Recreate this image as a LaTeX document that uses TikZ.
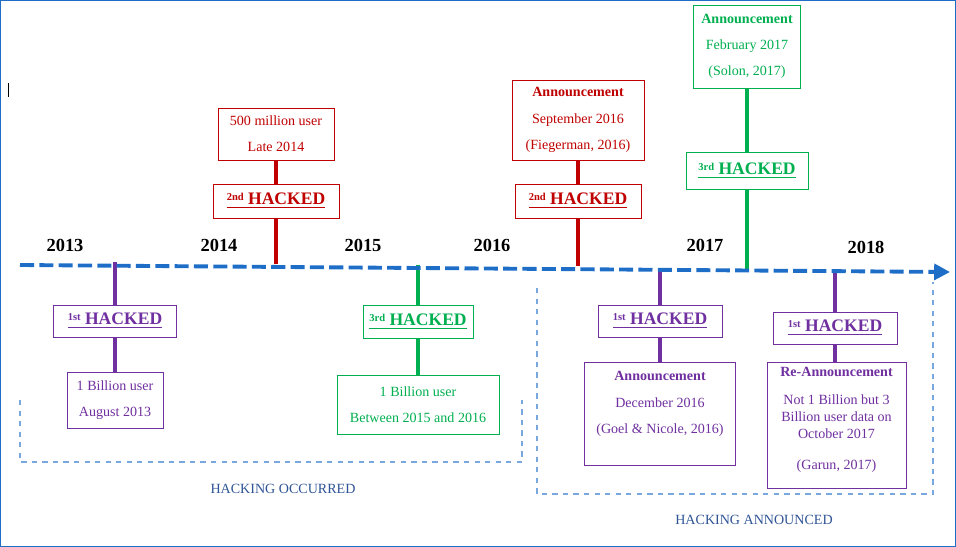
\documentclass[tikz,border=0pt]{standalone}
\usepackage{fontspec}
\setmainfont{Liberation Serif}
\usetikzlibrary{arrows.meta}
\definecolor{axisblue}{RGB}{30,110,200}
\definecolor{hred}{RGB}{192,0,0}
\definecolor{hgreen}{RGB}{0,176,80}
\definecolor{hpurple}{RGB}{112,48,160}
\definecolor{capblue}{RGB}{47,84,150}
\tikzset{
	box/.style={draw=#1, text=#1, thin, fill=white, inner sep=0pt, align=center, font=\fontsize{8}{15}\selectfont},
	hack/.style={box=#1, font=\bfseries\fontsize{10}{12}\selectfont},
	year/.style={font=\bfseries\fontsize{10.5}{12}\selectfont},
	stem/.style={draw=#1, line width=2.2pt}
}
\newcommand{\hk}[1]{\underline{\raisebox{0.5ex}{\fontsize{6}{6}\selectfont #1}~HACKED}}
\begin{document}
\begin{tikzpicture}[x=0.02cm, y=-0.02cm]
	\useasboundingbox (0,0) rectangle (956,547);
	\draw[axisblue, thin] (0.5,0.5) rectangle (955.5,546.5);
	\draw (8,83) -- (8,97);

	% bracket areas
	\draw[axisblue!60, dashed, thick] (20,400) -- (20,462) -- (522,462) -- (522,400);
	\draw[axisblue!60, dashed, thick] (537,288) -- (537,494) -- (933,494) -- (933,282);
	\node[capblue, font=\fontsize{8}{10}\selectfont] (occ) at (283,489) {HACKING OCCURRED};
	\node[capblue, font=\fontsize{8}{10}\selectfont] (ann) at (754,520) {HACKING ANNOUNCED};

	% time line
	\coordinate (tl0) at (20,265);
	\coordinate (tl1) at (950,272);
	\node[year] (y13) at (65,245) {2013};
	\node[year] (y14) at (219,245) {2014};
	\node[year] (y15) at (363,245) {2015};
	\node[year] (y16) at (492,245) {2016};
	\node[year] (y17) at (705,245) {2017};
	\node[year] (y18) at (866,247) {2018};

	% 1st hacked, 2013
	\node[hack=hpurple, minimum width=2.46cm, minimum height=0.64cm] (h1) at (115,321) {\hk{1st}};
	\node[box=hpurple, minimum width=1.92cm, minimum height=1.12cm] (d1) at (115,400) {1 Billion user\\August 2013};
	\draw[stem=hpurple] (115,262) -- (h1) -- (d1);

	% 2nd hacked, 2014
	\node[hack=hred, minimum width=2.52cm, minimum height=0.68cm] (h2) at (276,201) {\hk{2nd}};
	\node[box=hred, minimum width=2.32cm, minimum height=1.04cm] (d2) at (276,134) {500 million user\\Late 2014};
	\draw[stem=hred] (276,264) -- (h2) -- (d2);

	% 3rd hacked, 2015
	\node[hack=hgreen, minimum width=2.2cm, minimum height=0.66cm] (h3) at (418,321.5) {\hk{3rd}};
	\node[box=hgreen, minimum width=3.24cm, minimum height=1.18cm] (d3) at (418,404.5) {1 Billion user\\Between 2015 and 2016};
	\draw[stem=hgreen] (418,265) -- (h3) -- (d3);

	% 2nd hacked announced
	\node[hack=hred, minimum width=2.52cm, minimum height=0.68cm] (h4) at (578,201) {\hk{2nd}};
	\node[box=hred, minimum width=2.64cm, minimum height=1.6cm] (d4) at (578,120) {\textbf{Announcement}\\September 2016\\(Fiegerman, 2016)};
	\draw[stem=hred] (578,266) -- (h4) -- (d4);

	% 1st hacked announced
	\node[hack=hpurple, minimum width=2.48cm, minimum height=0.64cm] (h5) at (660,321) {\hk{1st}};
	\node[box=hpurple, minimum width=3.02cm, minimum height=2.06cm] (d5) at (660,413.5) {};
	\node[text=hpurple, align=center, inner sep=0pt, font=\fontsize{8}{15}\selectfont] (t5) at (660,404) {\textbf{Announcement}\\December 2016\\(Goel \& Nicole, 2016)};
	\draw[stem=hpurple] (660,268) -- (h5) -- (d5);

	% 3rd hacked announced
	\node[hack=hgreen, minimum width=2.44cm, minimum height=0.74cm] (h6) at (747,170.5) {\hk{3rd}};
	\node[box=hgreen, minimum width=2.14cm, minimum height=1.66cm] (d6) at (747,46.5) {\textbf{Announcement}\\February 2017\\(Solon, 2017)};
	\draw[stem=hgreen] (747,270) -- (h6) -- (d6);

	% re-announcement
	\node[hack=hpurple, minimum width=2.48cm, minimum height=0.64cm] (h7) at (835,328) {\hk{1st}};
	\node[box=hpurple, minimum width=2.78cm, minimum height=2.52cm] (d7) at (836.5,425) {};
	\node[text=hpurple, align=center, inner sep=0pt, font=\fontsize{8}{9.8}\selectfont] (t7) at (836.5,420) {\textbf{Re-Announcement}\\[6pt]Not 1 Billion but 3\\Billion user data on\\October 2017\\[8pt](Garun, 2017)};
	\draw[stem=hpurple] (835,271) -- (h7) -- (h7 |- d7.north);

	\draw[axisblue, line width=2.2pt, dash pattern=on 8pt off 3pt, -{Triangle[length=9pt,width=9pt]}] (tl0) -- (tl1);
\end{tikzpicture}
\end{document}
